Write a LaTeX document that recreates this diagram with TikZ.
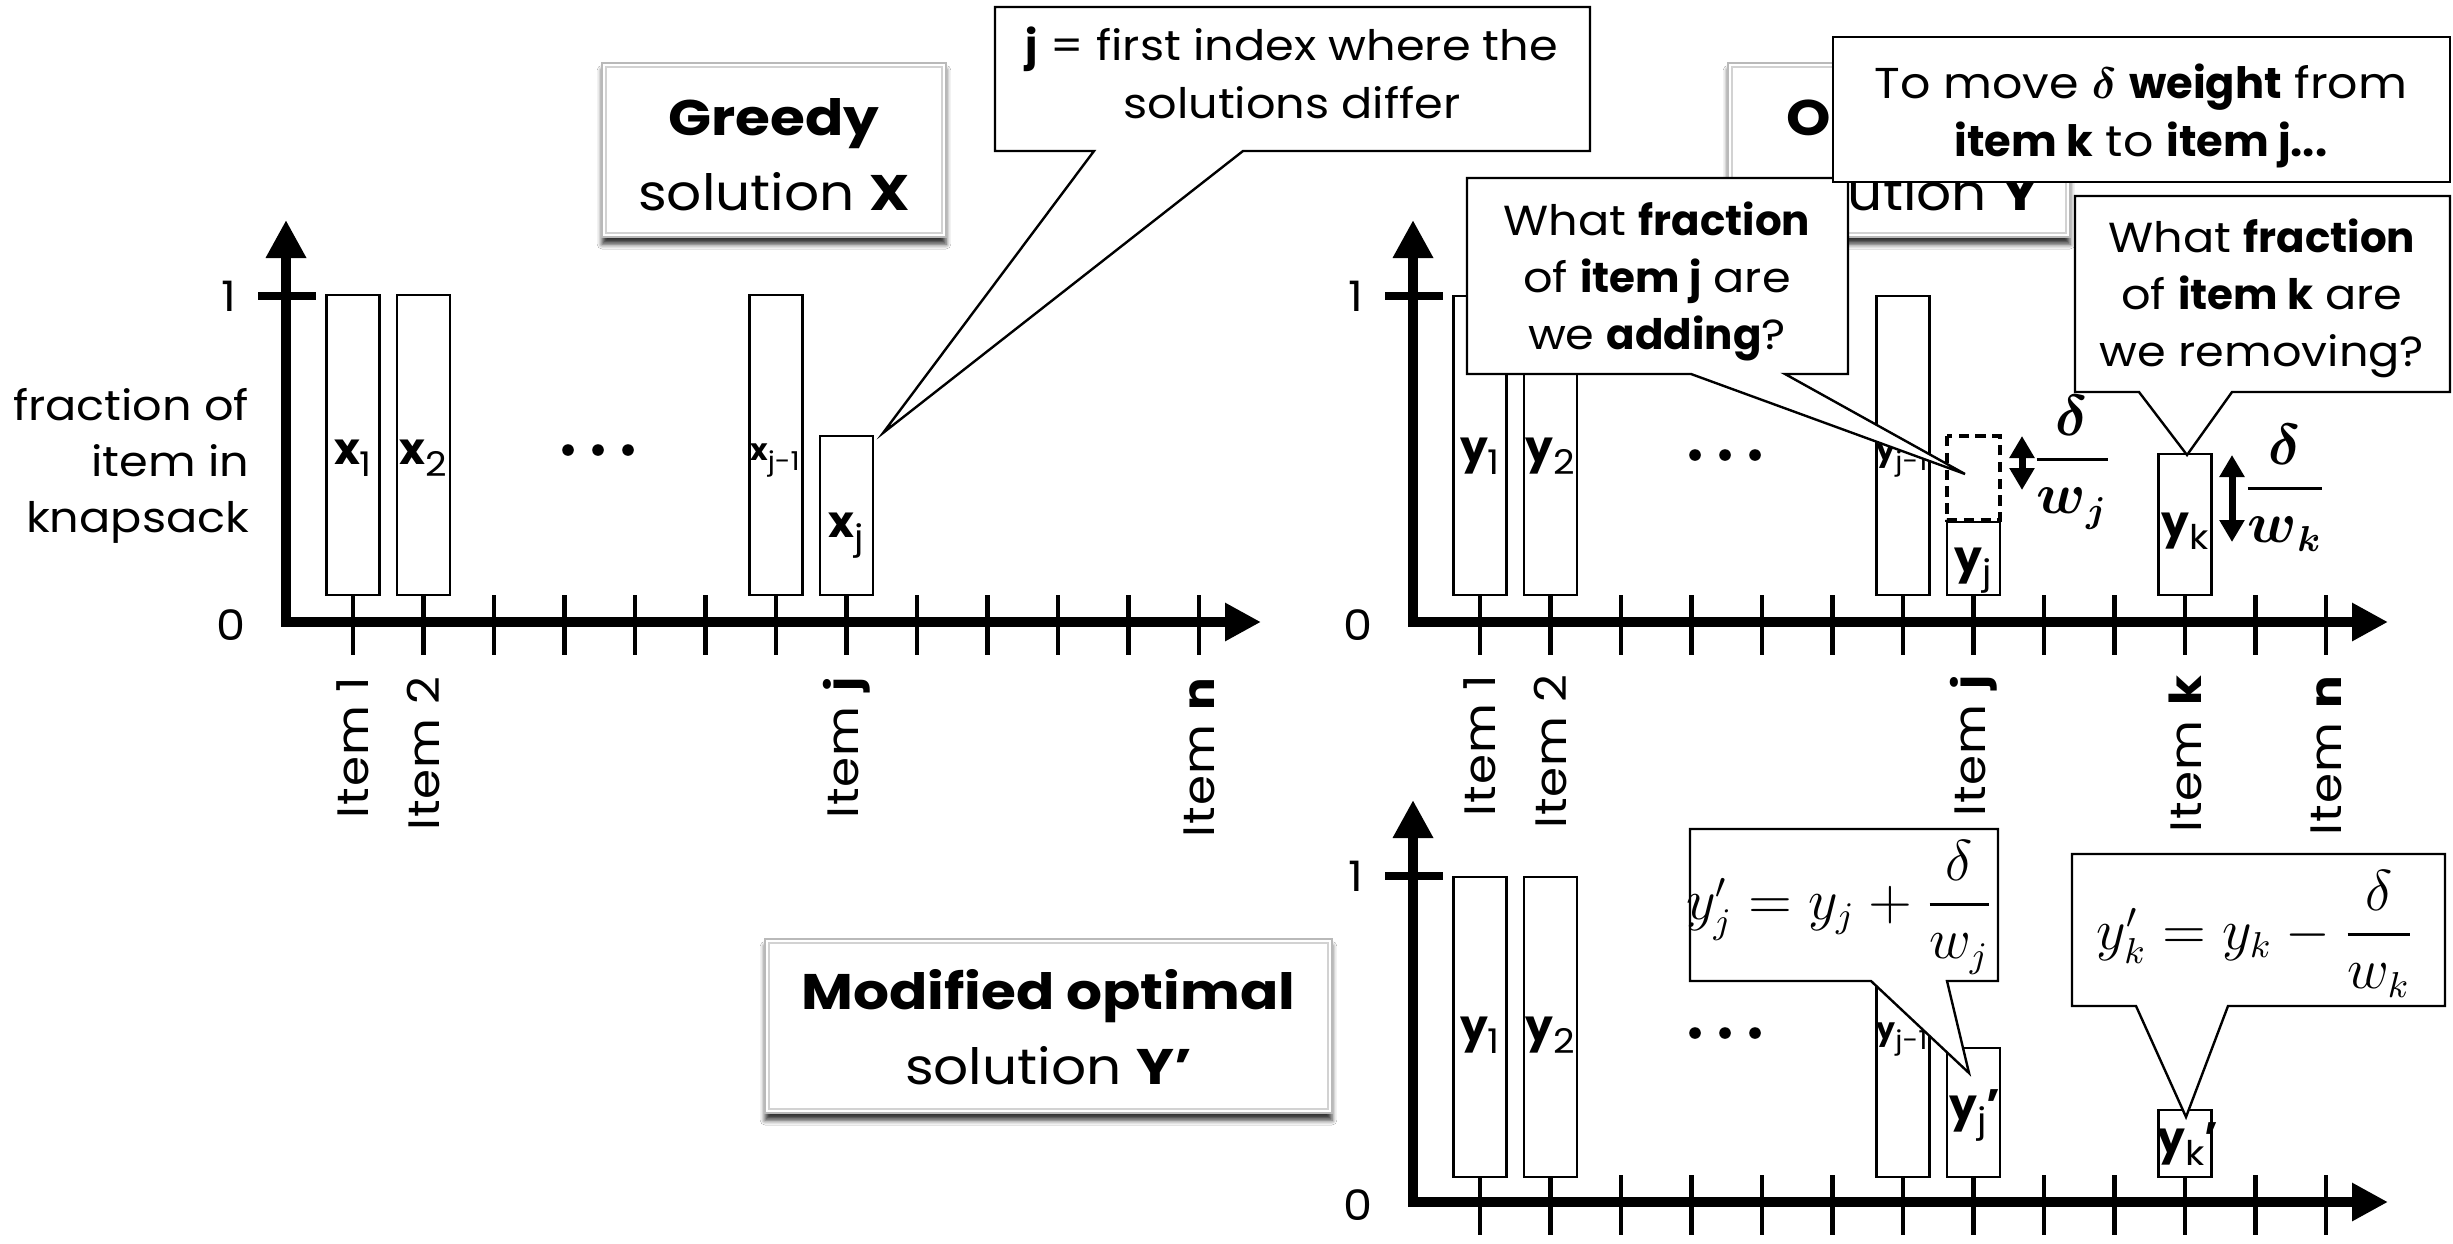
\documentclass[tikz,border=0pt]{standalone}
\usepackage{amsmath}
\usepackage{fontspec}
\setmainfont{Poppins}[FakeStretch=1.1, BoldFeatures={FakeStretch=1.0}]
\newfontfamily\itemfamily{Poppins}[FakeStretch=1.1, LetterSpace=2]
\newfontfamily\titlefamily{Poppins}[FakeStretch=1.1, BoldFeatures={FakeStretch=1.13}]
\usetikzlibrary{arrows.meta,shadows.blur}

\newcommand\fntaxis{\fontsize{10.5}{14}\selectfont}
\newcommand\fntitem{\itemfamily\fontsize{11}{11}\selectfont}
\newcommand\fnttitle{\titlefamily\fontsize{12.5}{18.75}\selectfont}
\newcommand\fntnote{\fontsize{10.5}{14.2}\selectfont}
\newcommand\fntbar{\fontsize{11}{11}\selectfont}
\newcommand\fntsmallbar{\fontsize{7.5}{7.5}\selectfont}
\newcommand\fntformula{\fontsize{13.5}{13.5}\selectfont}
\newcommand\itemsub[1]{\raisebox{-3pt}{\fontsize{8.5}{8.5}\selectfont\mdseries #1}}
\newcommand\itemsubsmall[1]{\raisebox{-2.5pt}{\fontsize{6.5}{6.5}\selectfont\mdseries #1}}
\newcommand\bfrac[1]{$\dfrac{\boldsymbol{\delta}}{\boldsymbol{w}_{\boldsymbol{#1}}}$}

% axes, ticks and the 0/1 marks of one chart; #1,#2 = origin, #3 = name prefix
\newcommand\chartaxes[3]{%
  \coordinate (#3o) at (#1,#2);
  \coordinate (#3t) at (#1,#2-402);
  \coordinate (#3e) at (#1+975,#2);
  \draw[axisline] (#3t) -- (#3o) -- (#3e);
  \foreach \ti in {0,...,12}{\draw[tickline] (#1+67+70.5*\ti,#2-27) -- (#1+67+70.5*\ti,#2+33);}
  \coordinate (#3la) at (#1-28,#2-326);
  \coordinate (#3lb) at (#1+30,#2-326);
  \draw[levelline] (#3la) -- (#3lb);
  \node[axislbl] (#3one) at (#1-57,#2-326) {1};
  \node[axislbl] (#3zero) at (#1-55,#2+3) {0};
}
% one bar: #1 centre x, #2 top, #3 bottom
\newcommand\itembar[3]{\draw[barrect] (#1-26.5,#2) rectangle (#1+26.5,#3);}
% three dots
\newcommand\threedots[2]{\foreach \dx in {-30,0,30}{\fill (#1+\dx,#2) circle (1.45pt);}}

\begin{document}
\begin{tikzpicture}[x=0.25pt,y=-0.25pt,
  axisline/.style={line width=2.5pt, line join=miter, arrows={Triangle[length=9.5pt,width=9.5pt]-Triangle[length=9pt,width=9pt]}},
  tickline/.style={line width=1.2pt},
  levelline/.style={line width=1.9pt},
  barrect/.style={draw, line width=0.7pt, fill=white},
  gapbox/.style={draw, line width=1pt, dash pattern=on 2.6pt off 1.6pt},
  shiftarrow/.style={line width=1.75pt, arrows={Triangle[length=5.5pt,width=6pt]-Triangle[length=5.5pt,width=6pt]}},
  axislbl/.style={inner sep=0pt, font=\fntaxis},
  itemlbl/.style={inner sep=0pt, font=\fntitem, rotate=90, anchor=east},
  barlbl/.style={inner sep=0pt, font=\fntbar, anchor=base},
  callout/.style={draw, line width=0.6pt, fill=white, line join=miter},
  notetext/.style={inner sep=0pt, font=\fntnote, align=center, anchor=base},
  titleframe/.style={draw=gray!55, line width=0.5pt, fill=white,
    blur shadow={shadow xshift=0pt, shadow yshift=-1.8pt, shadow blur radius=1.2pt, shadow opacity=80}},
  titleinner/.style={draw=gray!35, line width=0.4pt},
  titletext/.style={inner sep=0pt, font=\fnttitle, align=center, anchor=base},
  formula/.style={inner sep=0pt, font=\fntformula, anchor=base},
]
\fill[white] (0,0) rectangle (2453,1243);
\useasboundingbox (0,0) rectangle (2453,1243);

% ---------------- greedy solution X ----------------
\chartaxes{286}{622}{g}
% multi-line nodes sit on the baseline of their last line
\node[axislbl, align=right, anchor=base east] (gylabel) at (250,532)
  {fraction of\\item in\\knapsack};
\itembar{353}{295}{595}
\itembar{423.5}{295}{595}
\itembar{776}{295}{595}
\itembar{846.5}{436}{595}
\node[barlbl] (gx1) at (353,464) {\textbf{x}\itemsub{1}};
\node[barlbl] (gx2) at (423.5,464) {\textbf{x}\itemsub{2}};
\node[barlbl, font=\fntsmallbar] (gxjm) at (775,460) {\textbf{x}\itemsubsmall{j-1}};
\node[barlbl] (gxj) at (846.5,537) {\textbf{x}\itemsub{j}};
\threedots{598}{450}
\node[itemlbl] (gi1) at (353,676) {Item 1};
\node[itemlbl] (gi2) at (423.5,676) {Item 2};
\node[itemlbl] (gij) at (846.5,676) {Item \textbf{j}};
\node[itemlbl] (gin) at (1199,676) {Item \textbf{n}};

% ---------------- optimal solution Y ----------------
\chartaxes{1413}{622}{o}
\itembar{1480}{296}{595}
\itembar{1550.5}{296}{595}
\itembar{1903}{296}{595}
\itembar{1973.5}{522}{595}
\draw[gapbox] (1947,436) rectangle (2000,520);
\itembar{2185}{454}{595}
\node[barlbl] (oy1) at (1480,462) {\textbf{y}\itemsub{1}};
\node[barlbl] (oy2) at (1550.5,462) {\textbf{y}\itemsub{2}};
\node[barlbl, font=\fntsmallbar] (oyjm) at (1902,460) {\textbf{y}\itemsubsmall{j-1}};
\node[barlbl] (oyj) at (1973.5,572) {\textbf{y}\itemsub{j}};
\node[barlbl] (oyk) at (2185,537) {\textbf{y}\itemsub{k}};
\threedots{1725}{455}
\node[itemlbl] (oi1) at (1480,674) {Item 1};
\node[itemlbl] (oi2) at (1550.5,674) {Item 2};
\node[itemlbl] (oij) at (1973.5,674) {Item \textbf{j}};
\node[itemlbl] (oik) at (2185,674) {Item \textbf{k}};
\node[itemlbl] (oin) at (2326,674) {Item \textbf{n}};
\coordinate (ajt) at (2022,436);
\coordinate (ajb) at (2022,490);
\draw[shiftarrow] (ajt) -- (ajb);
\coordinate (akt) at (2232,455);
\coordinate (akb) at (2232,542);
\draw[shiftarrow] (akt) -- (akb);
\node[formula] (fj) at (2072,474) {\bfrac{j}};
\node[formula] (fk) at (2285,503) {\bfrac{k}};

% ---------------- modified optimal solution Y' ----------------
\chartaxes{1413}{1202}{m}
\itembar{1480}{877}{1177}
\itembar{1550.5}{877}{1177}
\itembar{1903}{877}{1177}
\itembar{1973.5}{1048}{1177}
\itembar{2185}{1110}{1177}
\node[barlbl] (my1) at (1480,1041) {\textbf{y}\itemsub{1}};
\node[barlbl] (my2) at (1550.5,1041) {\textbf{y}\itemsub{2}};
\node[barlbl, font=\fntsmallbar] (myjm) at (1902,1039) {\textbf{y}\itemsubsmall{j-1}};
\node[barlbl] (myj) at (1975,1120) {\textbf{y}\itemsub{j}\textbf{’}};
\node[barlbl] (myk) at (2188,1153) {\textbf{y}\itemsub{k}\textbf{’}};
\threedots{1725}{1033}

% ---------------- titles ----------------
\draw[titleframe] (602,63) rectangle (946,237);
\draw[titleinner] (606,67) rectangle (942,233);
\node[titletext] (tgreedy) at (774,210) {\textbf{Greedy}\\solution \textbf{X}};

\draw[titleframe] (1728,63) rectangle (2070,237);
\draw[titleinner] (1732,67) rectangle (2066,233);
\node[titletext] (topt) at (1905,210) {\textbf{Optimal}\\solution \textbf{Y}};

\draw[titleframe] (765,939) rectangle (1332,1113);
\draw[titleinner] (769,943) rectangle (1328,1109);
\node[titletext] (tmod) at (1048.5,1084) {\textbf{Modified optimal}\\solution \textbf{Y’}};

% ---------------- callouts ----------------
\draw[callout] (995,7) -- (1590,7) -- (1590,151) -- (1243,151) -- (883,433) -- (1094,151) -- (995,151) -- cycle;
\node[notetext, font=\fontsize{10.5}{14.4}\selectfont] (cfirst) at (1292,118.5) {\textbf{j} = first index where the\\solutions differ};

\draw[callout] (1467,178) -- (1848,178) -- (1848,374) -- (1785,374) -- (1965,474) -- (1691,374) -- (1467,374) -- cycle;
\node[notetext] (cadd) at (1657,349) {What \textbf{fraction}\\of \textbf{item j} are\\we \textbf{adding}?};

\draw[callout] (1833,37) rectangle (2450,182);
\node[notetext, font=\fontsize{10.8}{14.5}\selectfont] (cmove) at (2141,156)
  {To move $\boldsymbol{\delta}$ \textbf{weight} from\\\textbf{item k} to \textbf{item j...}};

\draw[callout] (2075,196) -- (2450,196) -- (2450,392) -- (2232,392) -- (2187,455) -- (2139,392) -- (2075,392) -- cycle;
\node[notetext] (crem) at (2262,366) {What \textbf{fraction}\\of \textbf{item k} are\\we removing?};

\draw[callout] (1690,829) -- (1998,829) -- (1998,981) -- (1947,981) -- (1969,1073) -- (1871,981) -- (1690,981) -- cycle;
\node[formula] (cyj) at (1840,919) {$y'_j = y_j + \dfrac{\delta}{w_j}$};

\draw[callout] (2072,854) -- (2445,854) -- (2445,1006) -- (2228,1006) -- (2186,1117) -- (2136,1006) -- (2072,1006) -- cycle;
\node[formula] (cyk) at (2256,949) {$y'_k = y_k - \dfrac{\delta}{w_k}$};
\end{tikzpicture}
\end{document}
